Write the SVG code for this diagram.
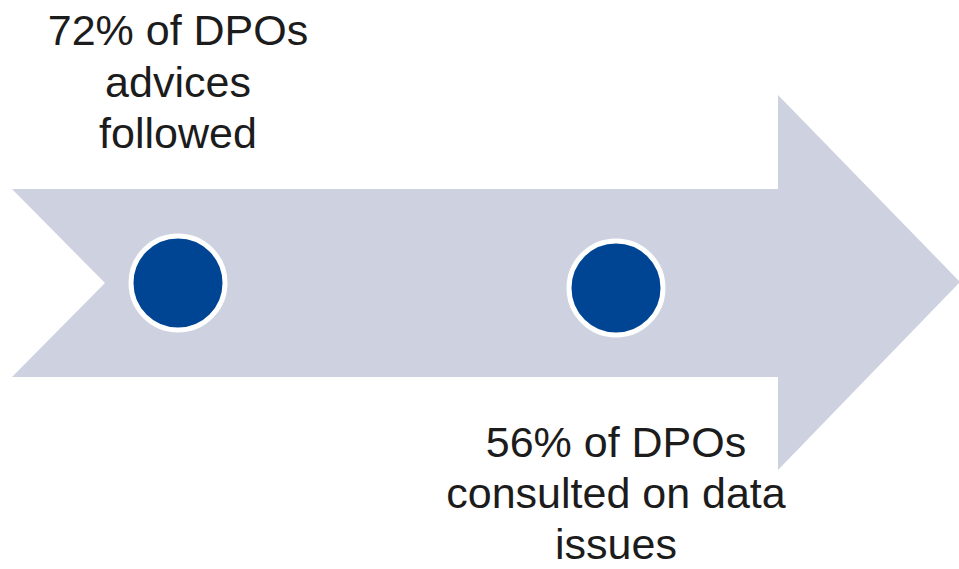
<svg xmlns="http://www.w3.org/2000/svg" width="959" height="569" viewBox="0 0 959 569">
<style>
.lbl{font-family:"Liberation Sans",Arial,sans-serif;font-size:43px;fill:#1c1c1c;text-anchor:middle}
.dot{fill:#004494;stroke:#ffffff;stroke-width:5}
</style>
<rect width="959" height="569" fill="#ffffff"/>
<g id="arrow">
<polygon points="12,189 778,189 778,95 960,282 778,470 778,377 12,377 105,283" fill="#cdd1e0"/>
</g>
<g id="connectors"></g>
<g id="node1">
<circle class="dot" cx="178" cy="283" r="47"/>
<text class="lbl" x="178" y="45">72% of DPOs</text>
<text class="lbl" x="178" y="97">advices</text>
<text class="lbl" x="178" y="148">followed</text>
</g>
<g id="node2">
<circle class="dot" cx="616" cy="288" r="47"/>
<text class="lbl" x="616" y="457">56% of DPOs</text>
<text class="lbl" x="616" y="508">consulted on data</text>
<text class="lbl" x="616" y="559">issues</text>
</g>
</svg>
